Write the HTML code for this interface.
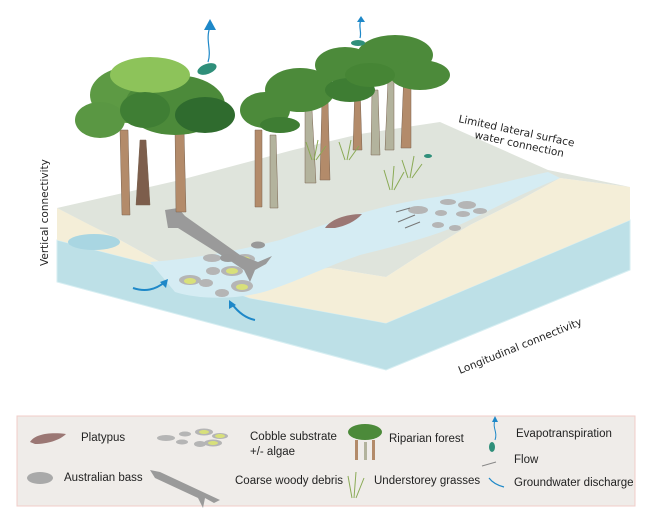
<!DOCTYPE html>
<html><head><meta charset="utf-8"><style>
html,body{margin:0;padding:0;background:#fff;}
svg{display:block;font-family:"DejaVu Sans","Liberation Sans",sans-serif;}
</style></head><body>
<svg width="650" height="517" viewBox="0 0 650 517">
<!-- groundwater layer -->
<polygon points="57,240 166,268 250,298 386,323 630,220 630,270 386,370 57,282" fill="#bde0e7" stroke="#d6eef2" stroke-width="1"/>
<!-- sand layer -->
<path d="M57,208 L57,240 L166,268 L250,298 L386,323 L630,220 L630,187 L560,178 L520,200 L470,225 L420,255 L386,277 L330,268 L290,262 L240,255 L160,262 L120,240 Z" fill="#f4eed8"/>
<!-- top face -->
<path d="M57,208 L180,180 L293,150 L360,134 L440,122 L548,170 L630,187 L560,178 L520,200 L470,225 L420,255 L386,277 L330,268 L280,270 L240,255 L160,262 L120,240 L90,225 Z" fill="#dfe4dc"/>
<!-- stream -->
<path d="M150,262 C200,258 240,250 280,240 C330,222 380,205 430,198 C470,192 510,180 548,172 L560,178 C530,190 500,205 470,220 C440,235 400,245 360,255 C330,265 300,280 270,290 C240,300 200,300 175,292 Z" fill="#d5ecf3"/>
<!-- pool -->
<ellipse cx="94" cy="242" rx="26" ry="8" fill="#a9d6e2"/>
<!-- cobbles -->
<g fill="#b5b5b5">
<ellipse cx="190" cy="280" rx="11" ry="5"/><ellipse cx="213" cy="271" rx="7" ry="4"/><ellipse cx="206" cy="283" rx="7" ry="4"/>
<ellipse cx="232" cy="271" rx="11" ry="5"/><ellipse cx="242" cy="286" rx="11" ry="6"/><ellipse cx="222" cy="293" rx="7" ry="4"/>
<ellipse cx="245" cy="259" rx="10" ry="5"/><ellipse cx="212" cy="258" rx="9" ry="4"/>
<ellipse cx="418" cy="210" rx="10" ry="4"/><ellipse cx="448" cy="202" rx="8" ry="3"/><ellipse cx="467" cy="205" rx="9" ry="4"/>
<ellipse cx="441" cy="213" rx="6" ry="3"/><ellipse cx="463" cy="214" rx="7" ry="3"/><ellipse cx="480" cy="211" rx="7" ry="3"/>
<ellipse cx="438" cy="225" rx="6" ry="3"/><ellipse cx="455" cy="228" rx="6" ry="3"/>
</g>
<g fill="#d8e07a"><ellipse cx="190" cy="281" rx="6" ry="3"/><ellipse cx="232" cy="271" rx="6" ry="3"/><ellipse cx="242" cy="287" rx="6" ry="3"/><ellipse cx="245" cy="259" rx="5" ry="2.5"/></g>
<!-- flow lines -->
<g stroke="#777" stroke-width="1"><line x1="396" y1="212" x2="410" y2="208"/><line x1="398" y1="222" x2="415" y2="215"/><line x1="405" y1="228" x2="420" y2="222"/></g>
<!-- platypus -->
<path d="M325,228 C330,220 345,214 362,214 C355,222 345,226 335,228 Z" fill="#9b7774"/>
<!-- woody debris -->
<path d="M165,210 L178,208 L185,216 L240,255 L258,262 L272,256 L266,264 L255,270 L250,282 L244,270 L232,262 L178,228 L168,228 Z" fill="#9a9a9a"/>
<!-- fish -->
<ellipse cx="228" cy="258" rx="8" ry="4" fill="#999"/><ellipse cx="258" cy="245" rx="7" ry="3.5" fill="#999"/>
<!-- groundwater arrows -->
<path d="M133,288 C145,292 155,290 165,282" fill="none" stroke="#1e88c8" stroke-width="2"/>
<polygon points="168,279 160,282 166,288" fill="#1e88c8"/>
<path d="M255,320 C245,318 238,312 232,304" fill="none" stroke="#1e88c8" stroke-width="2"/>
<polygon points="229,300 229,309 236,305" fill="#1e88c8"/>
<!-- trees -->
<g fill="#b38b6a" stroke="#7a6350" stroke-width="0.5">
<path d="M120,130 L128,130 L130,215 L122,215 Z"/><path d="M140,140 L146,140 L150,205 L136,205 Z" fill="#7d5e4c"/>
<path d="M175,130 L184,130 L186,212 L176,212 Z"/>
<path d="M255,130 L262,130 L262,207 L255,207 Z"/><path d="M270,135 L276,135 L278,208 L270,208 Z" fill="#b3b39d"/>
<path d="M305,110 L312,110 L316,183 L305,183 Z" fill="#b3b39d"/><path d="M322,100 L328,100 L330,180 L320,180 Z"/>
<path d="M355,85 L360,85 L362,150 L353,150 Z"/><path d="M372,90 L378,90 L380,155 L371,155 Z" fill="#b3b39d"/>
<path d="M388,80 L394,80 L394,150 L385,150 Z" fill="#b3b39d"/><path d="M404,70 L411,70 L411,148 L401,148 Z"/>
</g>
<g fill="#4c8a3a">
<ellipse cx="130" cy="95" rx="40" ry="28" fill="#5d9a44"/><ellipse cx="175" cy="105" rx="50" ry="30"/><ellipse cx="100" cy="120" rx="25" ry="18" fill="#5a9743"/>
<ellipse cx="150" cy="75" rx="40" ry="18" fill="#8dc35a"/><ellipse cx="205" cy="115" rx="30" ry="18" fill="#2f6b2e"/>
<ellipse cx="145" cy="110" rx="25" ry="18" fill="#3f7e34"/>
<ellipse cx="265" cy="110" rx="25" ry="18"/><ellipse cx="300" cy="90" rx="35" ry="22"/>
<ellipse cx="345" cy="65" rx="30" ry="18"/><ellipse cx="395" cy="55" rx="38" ry="20"/><ellipse cx="420" cy="75" rx="30" ry="15"/>
<ellipse cx="350" cy="90" rx="25" ry="12" fill="#3e7d33"/>
<ellipse cx="280" cy="125" rx="20" ry="8" fill="#3e7d33"/><ellipse cx="370" cy="75" rx="25" ry="12" fill="#468535"/>
</g>
<!-- grasses -->
<g stroke="#8aaa55" stroke-width="1" fill="none">
<path d="M312,160 l-6,-18 M314,160 l4,-20 M316,160 l10,-14"/><path d="M345,160 l-6,-18 M347,160 l4,-20 M349,160 l10,-14"/>
<path d="M390,190 l-6,-20 M392,190 l2,-24 M394,190 l10,-18"/><path d="M408,178 l-6,-18 M410,178 l4,-22 M412,178 l10,-14"/>
</g>
<!-- evapotranspiration -->
<g fill="#2f8f7a"><ellipse cx="207" cy="69" rx="10" ry="5" transform="rotate(-20 207 69)"/><ellipse cx="358" cy="43" rx="7" ry="3"/><ellipse cx="428" cy="156" rx="4" ry="2"/></g>
<g stroke="#1e88c8" stroke-width="1.2" fill="none"><path d="M208,62 C212,50 205,40 210,27"/><path d="M360,38 C362,32 358,26 361,20"/></g>
<polygon points="204,30 210,19 216,30" fill="#1e88c8"/><polygon points="357,22 361,16 365,22" fill="#1e88c8"/>
<!-- labels -->
<text font-size="10.5" fill="#222" transform="translate(48,266) rotate(-90)">Vertical connectivity</text>
<text font-size="10.5" fill="#222" transform="translate(458,122) rotate(12)">Limited lateral surface</text>
<text font-size="10.5" fill="#222" transform="translate(474,138) rotate(12)">water connection</text>
<text font-size="10.5" fill="#222" transform="translate(460,374) rotate(-22)">Longitudinal connectivity</text>
<!-- legend -->
<rect x="17" y="416" width="618" height="90" fill="#efece9" stroke="#f2cdc8" stroke-width="1"/>
<path d="M30,442 C35,434 50,432 66,434 C60,440 48,444 35,444 Z" fill="#9b7774"/>
<ellipse cx="40" cy="478" rx="13" ry="6" fill="#a9a9a9"/>
<g fill="#b5b5b5"><ellipse cx="166" cy="438" rx="9" ry="3"/><ellipse cx="185" cy="434" rx="6" ry="2.5"/><ellipse cx="204" cy="432" rx="9" ry="3.5"/><ellipse cx="220" cy="436" rx="8" ry="3"/><ellipse cx="182" cy="442" rx="6" ry="2.5"/><ellipse cx="200" cy="444" rx="6" ry="3"/><ellipse cx="213" cy="443" rx="9" ry="3.5"/></g>
<g fill="#d8e07a"><ellipse cx="204" cy="432" rx="5" ry="2"/><ellipse cx="220" cy="436" rx="5" ry="2"/><ellipse cx="213" cy="443" rx="5" ry="2"/></g>
<path d="M150,470 L160,472 L205,493 L220,500 L214,503 L205,498 L203,508 L198,498 L155,478 Z" fill="#9a9a9a"/>
<g fill="#b38b6a"><rect x="355" y="440" width="3" height="20"/><rect x="364" y="442" width="3" height="18" fill="#b3b39d"/><rect x="372" y="440" width="3" height="20"/></g>
<ellipse cx="365" cy="432" rx="17" ry="8" fill="#4c8a3a"/>
<g stroke="#8aaa55" fill="none"><path d="M352,498 l-4,-22 M354,498 l2,-26 M356,498 l8,-20"/></g>
<path d="M495,440 C498,432 492,428 495,420" stroke="#1e88c8" fill="none"/><polygon points="492,422 495,416 498,422" fill="#1e88c8"/>
<ellipse cx="492" cy="447" rx="3" ry="5" fill="#2f8f7a"/>
<line x1="482" y1="466" x2="496" y2="462" stroke="#888"/>
<path d="M504,487 C496,485 492,482 489,478" stroke="#1e88c8" fill="none" stroke-width="1.2"/>
<g font-size="11.5" fill="#222" font-family="Liberation Sans, sans-serif">
<text x="81" y="441">Platypus</text><text x="64" y="481">Australian bass</text>
<text x="250" y="440">Cobble substrate</text><text x="250" y="455">+/- algae</text>
<text x="235" y="484">Coarse woody debris</text><text x="389" y="442">Riparian forest</text>
<text x="374" y="484">Understorey grasses</text><text x="516" y="437">Evapotranspiration</text>
<text x="514" y="463">Flow</text><text x="514" y="486">Groundwater discharge</text>
</g>
</svg>
</body></html>
